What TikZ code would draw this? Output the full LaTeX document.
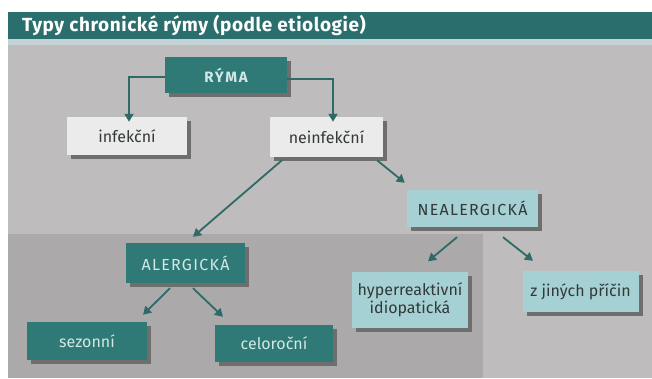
\documentclass[tikz,border=0pt]{standalone}
\usepackage{fontspec}
\setmainfont{Fira Sans}
\usetikzlibrary{arrows.meta,calc,shadows}
\definecolor{titleteal}{HTML}{2B6E6E}
\definecolor{boxteal}{HTML}{2F7977}
\definecolor{stripc}{HTML}{C5D3D6}
\definecolor{bggray}{HTML}{BEBCBC}
\definecolor{darkbg}{HTML}{ABA9AA}
\definecolor{lightbox}{HTML}{EBEBEB}
\definecolor{cyanbox}{HTML}{A5D1D5}
\definecolor{shadowc}{HTML}{6E6E6E}
\definecolor{arrowc}{HTML}{2E6A66}
\definecolor{tealtext}{HTML}{D2E8E6}
\definecolor{darktext}{HTML}{333838}
\tikzset{
  basebox/.style={rectangle, inner sep=2pt, font=\fontsize{16}{18}\selectfont, align=center,
    general shadow={fill=shadowc, shadow xshift=4pt, shadow yshift=-4pt}},
  capsfont/.style={font=\fontsize{16}{18}\selectfont\addfontfeature{LetterSpace=8}},
  tealbox/.style={basebox, fill=boxteal, text=tealtext},
  whitebox/.style={basebox, fill=lightbox, text=darktext},
  cyanb/.style={basebox, fill=cyanbox, text=darktext},
  arr/.style={draw=arrowc, line width=1.8pt, -{Triangle[length=8pt,width=9pt]}},
}
\begin{document}
\begin{tikzpicture}[x=1pt,y=-1pt]
\useasboundingbox (0,0) rectangle (652,378);
% backgrounds
\fill[bggray] (8,45) rectangle (652,378);
\fill[darkbg] (8,234) rectangle (483,378);
\fill[stripc] (8,39) rectangle (652,45);
\fill[titleteal] (8,12) rectangle (652,39);
\node[anchor=west, text=white, font=\bfseries\fontsize{19}{22}\selectfont\addfontfeature{LetterSpace=3}, inner sep=0pt] (title) at (22,25.5) {Typy chronické rýmy (podle etiologie)};
% boxes
\node[tealbox, minimum width=122pt, minimum height=36pt, font=\bfseries\fontsize{15}{18}\selectfont\addfontfeature{LetterSpace=12}] (ryma) at (226,75) {RÝMA};
\node[whitebox, minimum width=120pt, minimum height=38pt] (infek) at (127,136) {infekční};
\node[whitebox, minimum width=113pt, minimum height=40pt] (neinf) at (326.5,137) {neinfekční};
\node[cyanb, capsfont, minimum width=131pt, minimum height=37pt] (nealer) at (472.5,208.5) {NEALERGICKÁ};
\node[tealbox, capsfont, minimum width=119pt, minimum height=40pt] (aler) at (185.5,263) {ALERGICKÁ};
\node[cyanb, minimum width=116pt, minimum height=56pt] (hyper) at (410,299.5) {hyperreaktivní\\idiopatická};
\node[cyanb, minimum width=116pt, minimum height=41pt] (jine) at (580.5,291.5) {z jiných příčin};
\node[tealbox, minimum width=120pt, minimum height=38pt] (sez) at (87,341) {sezonní};
\node[tealbox, minimum width=118pt, minimum height=37pt] (celo) at (274,343.5) {celoroční};
% connectors
\draw[arr] ([yshift=-2pt]ryma.west) -| ([xshift=2pt,yshift=-5pt]infek.north);
\draw[arr] ([yshift=-4pt]ryma.east) -| ([xshift=6.5pt,yshift=-5pt]neinf.north);
\draw[arr] ($(neinf.south)+(-44.5,3)$) -- ($(aler.north)+(7.5,-6)$);
\draw[arr] ($(neinf.south)+(50.5,3)$) -- ($(nealer.north west)+(-2,-7)$);
\draw[arr] ($(nealer.south)+(-15.5,10)$) -- ($(hyper.north)+(18,-10)$);
\draw[arr] ($(nealer.south)+(30.5,10)$) -- ($(jine.north)+(-47.5,-10)$);
\draw[arr] ($(aler.south)+(-15.5,5)$) -- ($(sez.north)+(56,-7)$);
\draw[arr] ($(aler.south)+(7.5,5)$) -- ($(celo.north)+(-51,-8)$);
\end{tikzpicture}
\end{document}
